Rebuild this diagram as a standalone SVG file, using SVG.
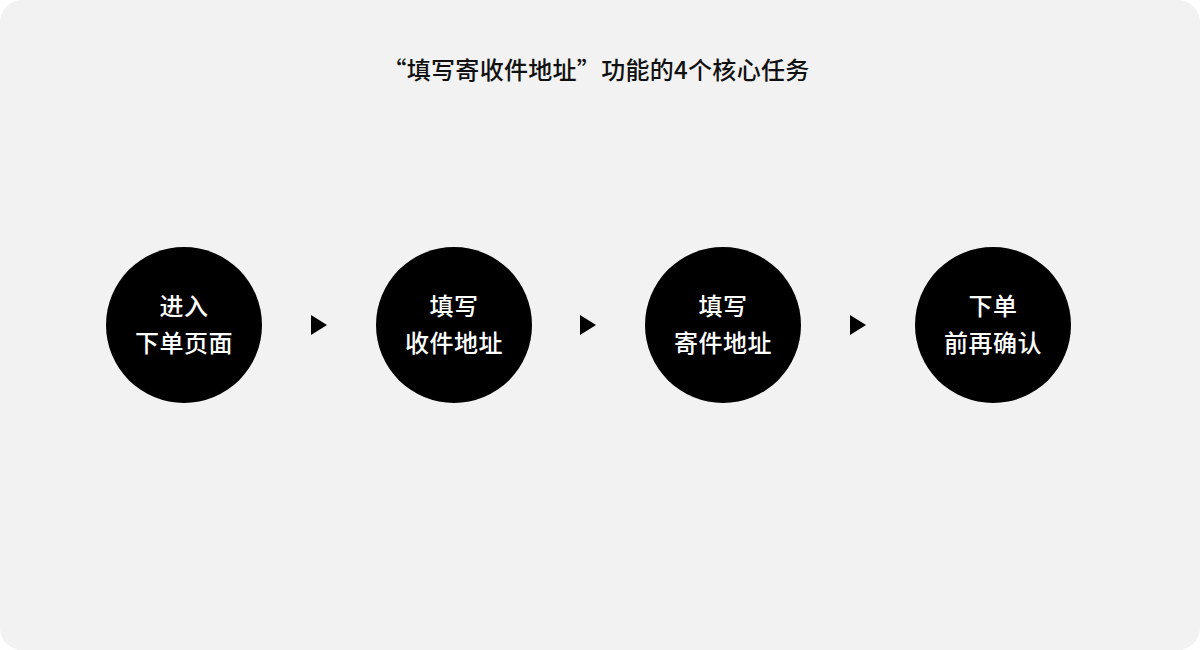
<svg xmlns="http://www.w3.org/2000/svg" width="1200" height="650" viewBox="0 0 1200 650">
<style>
.bg{fill:#f2f2f2}
.node circle{fill:#000}
.label{font-family:"Noto Sans CJK SC","Noto Sans",sans-serif;font-size:24px;font-weight:500;fill:#fff;text-anchor:middle;letter-spacing:0.5px}
.title{font-family:"Noto Sans CJK SC","Noto Sans",sans-serif;font-size:24px;font-weight:500;fill:#111;text-anchor:middle;letter-spacing:0.3px}
.arrow{fill:#000}
</style>
<rect width="1200" height="650" fill="#fff"/>
<rect class="bg" x="0" y="0" width="1200" height="650" rx="22" ry="22"/>
<text class="title" x="596" y="79">“填写寄收件地址”功能的4个核心任务</text>
<g id="connectors">
<polygon class="arrow" points="311,315 327,325 311,335"/>
<polygon class="arrow" points="580,315 596,325 580,335"/>
<polygon class="arrow" points="850,315 866,325 850,335"/>
</g>
<g id="node1" class="node">
<circle cx="184" cy="325" r="78"/>
<text class="label" x="184" y="315">进入</text>
<text class="label" x="184" y="352">下单页面</text>
</g>
<g id="node2" class="node">
<circle cx="454" cy="325" r="78"/>
<text class="label" x="454" y="315">填写</text>
<text class="label" x="454" y="352">收件地址</text>
</g>
<g id="node3" class="node">
<circle cx="723" cy="325" r="78"/>
<text class="label" x="723" y="315">填写</text>
<text class="label" x="723" y="352">寄件地址</text>
</g>
<g id="node4" class="node">
<circle cx="993" cy="325" r="78"/>
<text class="label" x="993" y="315">下单</text>
<text class="label" x="993" y="352">前再确认</text>
</g>
</svg>
